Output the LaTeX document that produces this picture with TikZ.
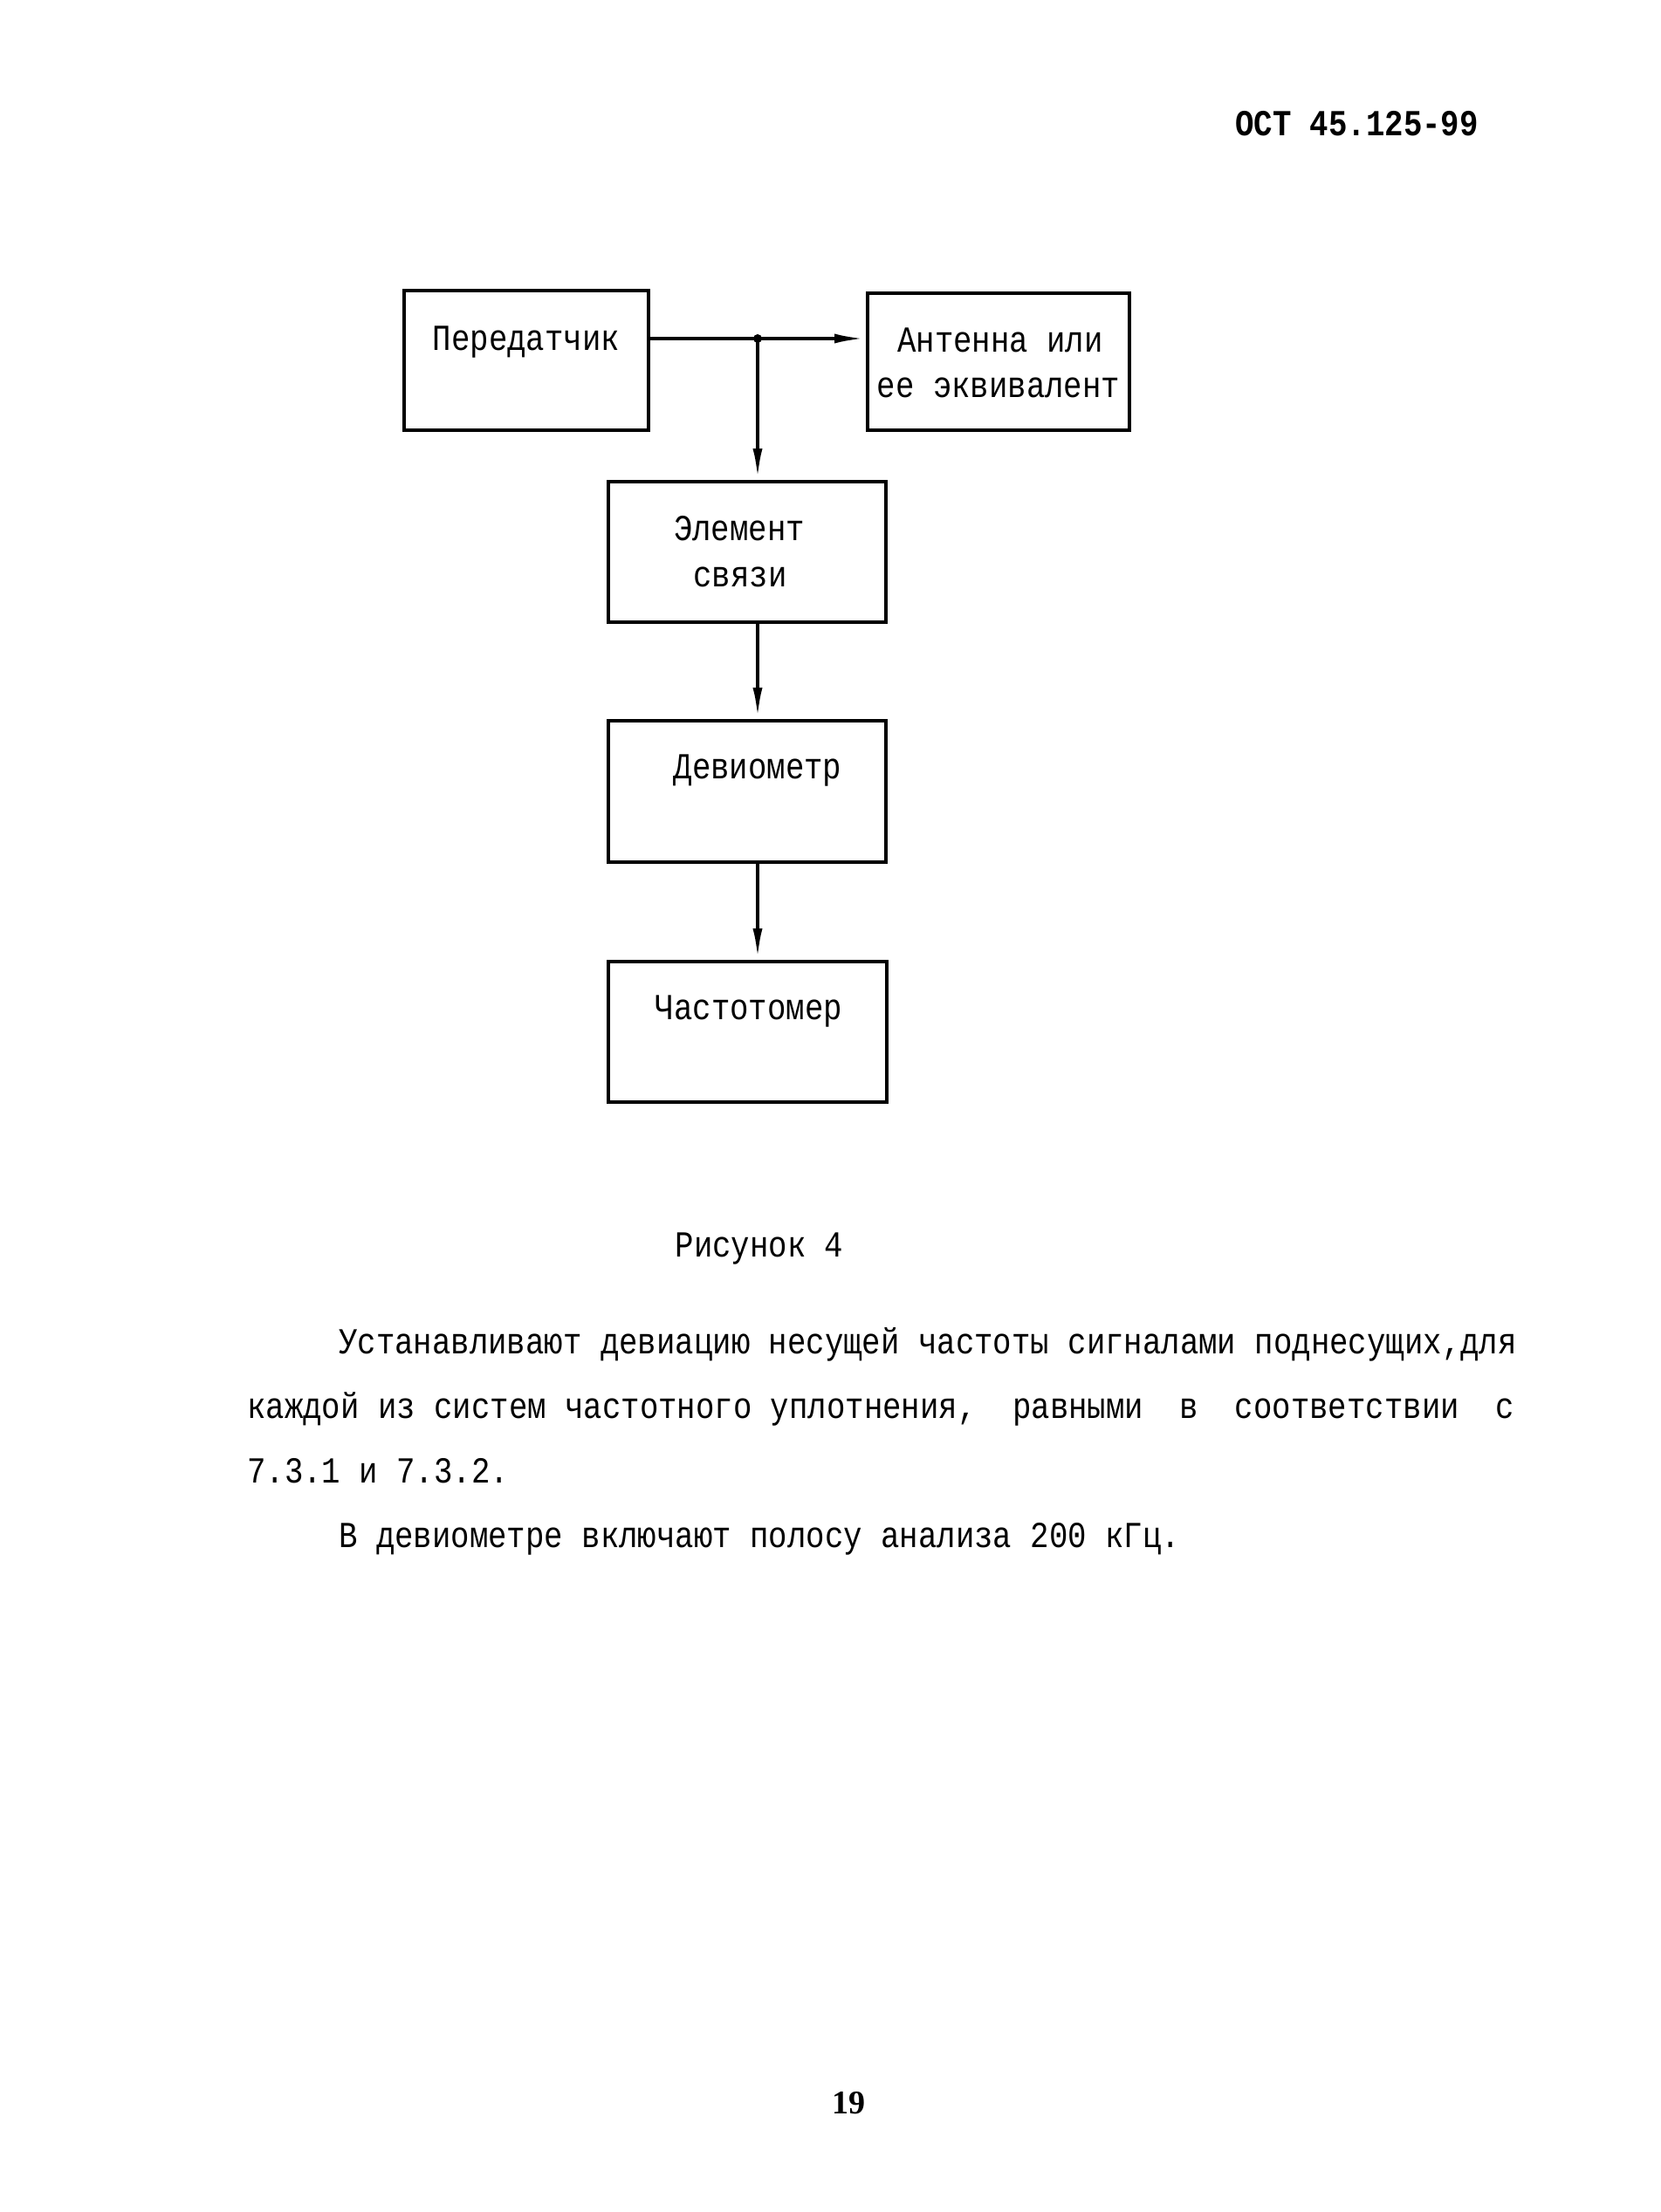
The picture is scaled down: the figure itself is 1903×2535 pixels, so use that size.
\documentclass[tikz,border=0pt]{standalone}
\usepackage{fontspec}
\usetikzlibrary{arrows.meta}
\newfontfamily\tw[FakeStretch=0.85]{Liberation Mono}
\newfontfamily\pgnum{Liberation Serif}
\begin{document}
\begin{tikzpicture}[x=1pt,y=-1pt,
  box/.style={draw, line width=4pt, inner sep=0pt, rectangle},
  lbl/.style={anchor=base, inner sep=0pt, font=\tw\fontsize{42}{50}\selectfont},
  para/.style={anchor=base west, inner sep=0pt, font=\tw\fontsize{42}{50}\selectfont},
  conn/.style={line width=4pt},
  arr/.style={line width=4pt, -{Latex[length=36pt,width=11pt]}},
]
\useasboundingbox[fill=white] (0,0) rectangle (1903,2535);

\node[box, minimum width=280pt, minimum height=160pt] (P) at (603,413) {};
\node[box, minimum width=300pt, minimum height=157pt] (A) at (1144,414.5) {};
\node[box, minimum width=318pt, minimum height=161pt] (E) at (856,632.5) {};
\node[box, minimum width=318pt, minimum height=162pt] (D) at (856,907) {};
\node[box, minimum width=319pt, minimum height=161pt] (C) at (856.5,1182.5) {};

\node[lbl] (Pt) at (603,401) {Передатчик};
\node[lbl] (At1) at (1146,403) {Антенна или};
\node[lbl] (At2) at (1144,455) {ее эквивалент};
\node[lbl] (Et1) at (847,619) {Элемент};
\node[lbl] (Et2) at (848,672) {связи};
\node[lbl] (Dt) at (868,892) {Девиометр};
\node[lbl] (Ct) at (858,1168) {Частотомер};
\node[lbl] (fig) at (870,1440) {Рисунок 4};
\node[lbl, anchor=base west, font=\tw\bfseries\fontsize{42}{50}\selectfont] (hdr) at (1415,155) {ОСТ 45.125-99};

\node[para] (p1) at (388,1551) {Устанавливают девиацию несущей частоты сигналами поднесущих\rlap{,} для};
\node[para] (p2) at (283,1625) {\hbox to 1452pt{каждой из систем частотного уплотнения,\hfill равными\hfill в\hfill соответствии\hfill с}};
\node[para] (p3) at (283,1699) {7.3.1 и 7.3.2.};
\node[para] (p4) at (388,1773) {В девиометре включают полосу анализа 200 кГц.};
\node[anchor=base, inner sep=0pt, font=\pgnum\bfseries\fontsize{38}{44}\selectfont] (pg) at (972,2422) {19};

\coordinate (j) at (868,388);
\draw[conn] (j -| P.east) -- (j);
\draw[arr] (j) -- (j -| A.west);
\draw[arr] (j) -- (j |- E.north);
\draw[arr] (j |- E.south) -- (j |- D.north);
\draw[arr] (j |- D.south) -- (j |- C.north);
\fill (j) circle (5pt);
\end{tikzpicture}
\end{document}
